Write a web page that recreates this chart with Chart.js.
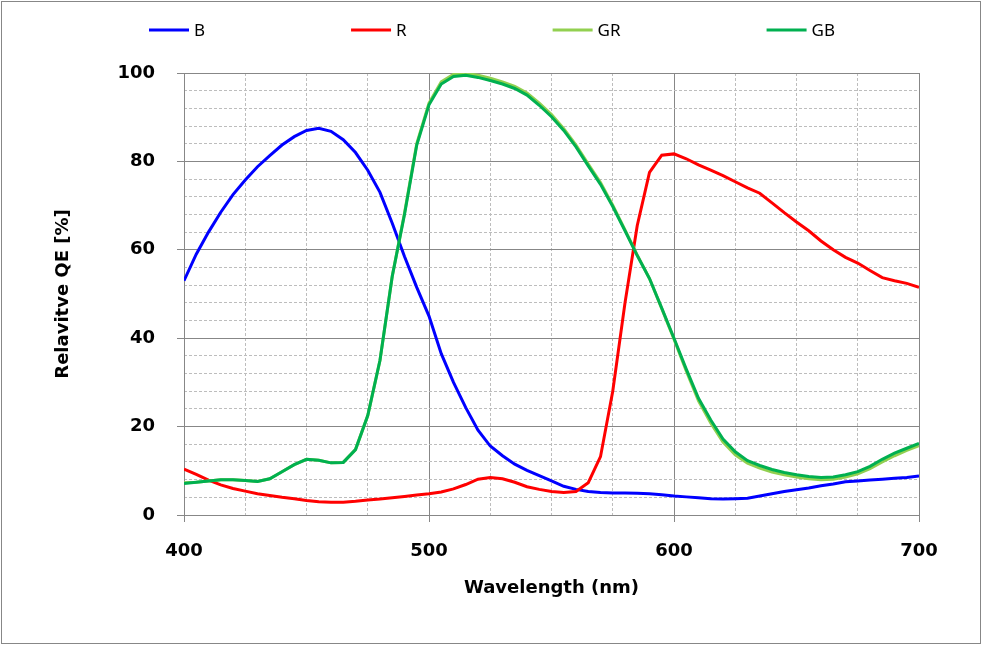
<!DOCTYPE html>
<html>
<head>
<meta charset="utf-8">
<script src="https://cdn.jsdelivr.net/npm/chart.js@4.4.1/dist/chart.umd.min.js"></script>
<style>
  html, body { margin: 0; padding: 0; background: #fff; }
  #wrap { width: 982px; height: 645px; }
</style>
</head>
<body>
<div id="wrap"><canvas id="qe" width="982" height="645"></canvas></div>
<script>
// wavelength samples (nm)
const wavelengths = [400, 405, 410, 415, 420, 425, 430, 435, 440, 445,
  450, 455, 460, 465, 470, 475, 480, 485, 490, 495,
  500, 505, 510, 515, 520, 525, 530, 535, 540, 545,
  550, 555, 560, 565, 570, 575, 580, 585, 590, 595,
  600, 605, 610, 615, 620, 625, 630, 635, 640, 645,
  650, 655, 660, 665, 670, 675, 680, 685, 690, 695, 700];

// relative QE [%] per channel
const qeB = [53, 59, 64, 68.5, 72.5, 75.8, 78.8, 81.3, 83.7, 85.6,
  87, 87.5, 86.8, 84.9, 82, 78, 73, 66, 58.5, 51.5,
  45, 36.5, 30, 24.3, 19.2, 15.6, 13.4, 11.5, 10.1, 8.9,
  7.7, 6.5, 5.8, 5.3, 5.1, 5, 5, 4.9, 4.8, 4.6,
  4.3, 4.1, 3.9, 3.7, 3.6, 3.7, 3.8, 4.3, 4.8, 5.3,
  5.7, 6.1, 6.6, 7, 7.5, 7.7, 7.9, 8.1, 8.3, 8.5, 8.8];

const qeR = [10.4, 9.2, 7.9, 6.8, 6.0, 5.4, 4.8, 4.4, 4.0, 3.7,
  3.3, 3.0, 2.9, 2.9, 3.1, 3.4, 3.6, 3.9, 4.2, 4.5,
  4.8, 5.2, 5.9, 6.9, 8.1, 8.5, 8.2, 7.4, 6.4, 5.8,
  5.3, 5.1, 5.3, 7.3, 13.2, 28, 48, 65.5, 77.5, 81.4,
  81.7, 80.6, 79.2, 78, 76.8, 75.4, 74, 72.8, 70.6, 68.4,
  66.3, 64.3, 62, 60, 58.3, 57, 55.3, 53.7, 53, 52.4, 51.5];

const qeGR = [7.3, 7.4, 7.7, 8.0, 8.0, 7.8, 7.6, 8.2, 9.8, 11.4,
  12.6, 12.4, 11.8, 11.9, 14.8, 22.5, 35, 54, 68.3, 84,
  93.2, 98, 99.7, 99.9, 99.5, 98.8, 98, 97, 95.5, 93.2,
  90.6, 87.4, 83.7, 79.4, 75.2, 70.1, 64.5, 58.8, 53.5, 46.7,
  39.8, 32.6, 25.8, 20.8, 16.5, 13.6, 11.7, 10.6, 9.7, 9.1,
  8.6, 8.2, 8.0, 8.1, 8.6, 9.3, 10.5, 12.0, 13.4, 14.6, 15.7];

const qeGB = [7.1, 7.4, 7.7, 8.0, 8.0, 7.8, 7.6, 8.2, 9.8, 11.4,
  12.6, 12.4, 11.8, 11.9, 14.8, 22.5, 35, 54, 68, 83.7,
  92.8, 97.5, 99.2, 99.5, 99, 98.3, 97.5, 96.5, 95, 92.7,
  90.1, 87, 83.3, 79, 74.8, 69.8, 64.3, 58.7, 53.5, 46.8,
  40, 33, 26.4, 21.5, 17.2, 14.3, 12.3, 11.2, 10.3, 9.6,
  9.1, 8.7, 8.5, 8.6, 9.1, 9.8, 11, 12.6, 14, 15.1, 16.2];

const xTicksMajor = [400, 500, 600, 700];
const yTicksMajor = [0, 20, 40, 60, 80, 100];

function pts(vals) {
    return wavelengths.map((w, i) => ({ x: w, y: vals[i] }));
}

const gridGray = '#878787';
const minorGray = '#bdbdbd';
const labelFont = { family: '"DejaVu Sans", sans-serif', size: 18, weight: 'bold' };

// legend across the top, drawn by hand because the items are spread wide
const topLegend = {
    id: 'topLegend',
    afterDraw(chart) {
        const ctx = chart.ctx;
        ctx.save();
        ctx.font = '17px "Noto Sans", sans-serif';
        ctx.textBaseline = 'middle';
        let x = 149;
        const y = 30;
        chart.data.datasets.forEach(ds => {
            ctx.strokeStyle = ds.borderColor;
            ctx.lineWidth = 3;
            ctx.beginPath();
            ctx.moveTo(x, y);
            ctx.lineTo(x + 40, y);
            ctx.stroke();
            ctx.fillStyle = '#000';
            ctx.fillText(ds.label, x + 45, y + 1);
            x += 45 + ctx.measureText(ds.label).width + 146;
        });
        ctx.restore();
    }
};

// white background and the outer gray frame
const frame = {
    id: 'frame',
    beforeDraw(chart) {
        const ctx = chart.ctx;
        ctx.save();
        ctx.fillStyle = '#fff';
        ctx.fillRect(0, 0, chart.width, chart.height);
        ctx.strokeStyle = gridGray;
        ctx.lineWidth = 1;
        ctx.strokeRect(1.5, 1.5, chart.width - 3, chart.height - 3);
        ctx.restore();
    }
};

new Chart(document.getElementById('qe'), {
    type: 'line',
    data: {
        datasets: [
            { label: 'B', data: pts(qeB), borderColor: '#0000ff', order: 3 },
            { label: 'R', data: pts(qeR), borderColor: '#ff0000', order: 2 },
            { label: 'GR', data: pts(qeGR), borderColor: '#92d050', order: 1 },
            { label: 'GB', data: pts(qeGB), borderColor: '#00b050', order: 0 }
        ]
    },
    options: {
        responsive: false,
        animation: false,
        events: [],
        layout: { padding: { left: 0, top: 73, right: 63, bottom: 0 } },
        elements: {
            line: { borderWidth: 3, tension: 0, fill: false },
            point: { radius: 0 }
        },
        plugins: {
            legend: { display: false },
            tooltip: { enabled: false }
        },
        scales: {
            x: {
                type: 'linear',
                position: 'bottom',
                min: 400,
                max: 700,
                afterBuildTicks: s => { s.ticks = xTicksMajor.map(v => ({ value: v })); },
                ticks: { color: '#000', font: labelFont, padding: 19, maxRotation: 0 },
                grid: { color: gridGray, tickColor: gridGray, tickLength: 7 },
                border: { color: gridGray },
                title: {
                    display: true,
                    text: 'Wavelength (nm)',
                    color: '#000',
                    font: labelFont,
                    padding: { top: 0, bottom: 46 }
                },
                afterFit: s => { s.height = 130; }
            },
            xMinor: {
                type: 'linear',
                position: 'bottom',
                min: 400,
                max: 700,
                ticks: { display: false, stepSize: 25 },
                grid: {
                    drawTicks: false,
                    color: c => (c.tick && c.tick.value % 100 === 0) ? 'rgba(0,0,0,0)' : minorGray
                },
                border: { display: false, dash: [3, 2] },
                afterFit: s => { s.height = 0; }
            },
            y: {
                type: 'linear',
                position: 'left',
                min: 0,
                max: 100,
                afterBuildTicks: s => { s.ticks = yTicksMajor.map(v => ({ value: v })); },
                ticks: { color: '#000', font: labelFont, padding: 22 },
                grid: { color: gridGray, tickColor: gridGray, tickLength: 7 },
                border: { color: gridGray },
                title: {
                    display: true,
                    text: 'Relavitve QE [%]',
                    color: '#000',
                    font: labelFont,
                    padding: { top: 53, bottom: 0 }
                },
                afterFit: s => { s.width = 184; }
            },
            yMinor: {
                type: 'linear',
                position: 'left',
                min: 0,
                max: 100,
                ticks: { display: false, stepSize: 4 },
                grid: {
                    drawTicks: false,
                    color: c => (c.tick && c.tick.value % 20 === 0) ? 'rgba(0,0,0,0)' : minorGray
                },
                border: { display: false, dash: [3, 2] },
                afterFit: s => { s.width = 0; }
            }
        }
    },
    plugins: [frame, topLegend]
});
</script>
</body>
</html>
